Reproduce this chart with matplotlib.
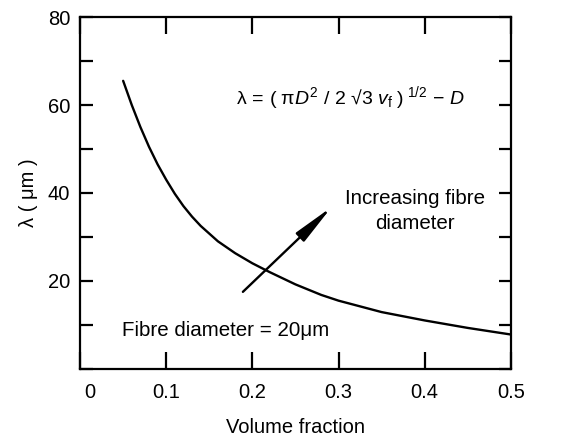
import matplotlib
matplotlib.use("Agg")
import matplotlib.pyplot as plt
import matplotlib.transforms as mtransforms

plt.rcParams['font.family'] = ['Liberation Sans', 'DejaVu Sans']
plt.rcParams['mathtext.fontset'] = 'custom'
plt.rcParams['mathtext.rm'] = 'Liberation Sans'
plt.rcParams['mathtext.it'] = 'Liberation Sans:italic'
plt.rcParams['mathtext.bf'] = 'Liberation Sans:bold'

# Data (fibre diameter = 20 um)
volume_fraction = [0.05, 0.06, 0.07, 0.08, 0.09, 0.10, 0.11, 0.12, 0.13, 0.14,
                   0.16, 0.18, 0.20, 0.22, 0.25, 0.28, 0.30, 0.35, 0.40,
                   0.45, 0.50]
spacing_um = [65.5, 60.0, 55.0, 50.5, 46.5, 43.0, 39.8, 37.0, 34.6, 32.5,
              29.0, 26.3, 24.0, 22.0, 19.2, 16.8, 15.5, 12.9, 11.0,
              9.3, 7.8]

x_ticks = [0, 0.1, 0.2, 0.3, 0.4, 0.5]
x_tick_labels = ['0', '0.1', '0.2', '0.3', '0.4', '0.5']
y_ticks = [0, 10, 20, 30, 40, 50, 60, 70, 80]
y_tick_labels = ['', '', '20', '', '40', '', '60', '', '80']

arrow_tail = (0.189, 17.5)
arrow_head = (0.292, 36.8)

fig = plt.figure(figsize=(5.72, 4.38), dpi=100)
ax = fig.add_axes([0.140, 0.158, 0.753, 0.803])

ax.plot(volume_fraction, spacing_um, color='black', lw=1.7,
        solid_capstyle='round', solid_joinstyle='round')

ax.set_xlim(0, 0.5)
ax.set_ylim(0, 80)
ax.set_xticks(x_ticks)
ax.set_xticklabels(x_tick_labels)
ax.set_yticks(y_ticks)
ax.set_yticklabels(y_tick_labels)

for s in ax.spines.values():
    s.set_linewidth(1.6)

ax.tick_params(axis='x', direction='in', length=12, width=1.6, top=True,
               labelsize=14.5, pad=10)
ax.tick_params(axis='y', direction='in', length=9, width=1.6, right=True,
               labelsize=14.5, pad=7)

# shift the "0" label slightly right as in the reference
lab0 = ax.get_xticklabels()[0]
lab0.set_transform(lab0.get_transform() +
                   mtransforms.ScaledTranslation(7 / 72, 0, fig.dpi_scale_trans))

ax.set_xlabel('Volume fraction', fontsize=14.5, labelpad=12)
ax.set_ylabel('λ ( μm )', fontsize=14.5, labelpad=7)

ax.text(0.314, 61.5,
        r'$\mathrm{\lambda}\,=\,(\ \mathrm{\pi} D^{2}\ /\ 2\ $√$3\ v_{\mathrm{f}}\ )^{\ 1/2}\,-\,D$',
        fontsize=14, ha='center', va='center')

ax.text(0.389, 35.9, 'Increasing fibre\ndiameter', fontsize=14.8,
        ha='center', va='center', linespacing=1.45)

ax.text(0.049, 8.6, 'Fibre diameter = 20μm', fontsize=14.8,
        ha='left', va='center')

ax.annotate('', xy=arrow_head, xytext=arrow_tail,
            arrowprops=dict(arrowstyle='-|>,head_length=1.4,head_width=0.2',
                            mutation_scale=18, color='black', lw=1.7,
                            shrinkA=0, shrinkB=0))

fig.savefig('out.png', dpi=100)
